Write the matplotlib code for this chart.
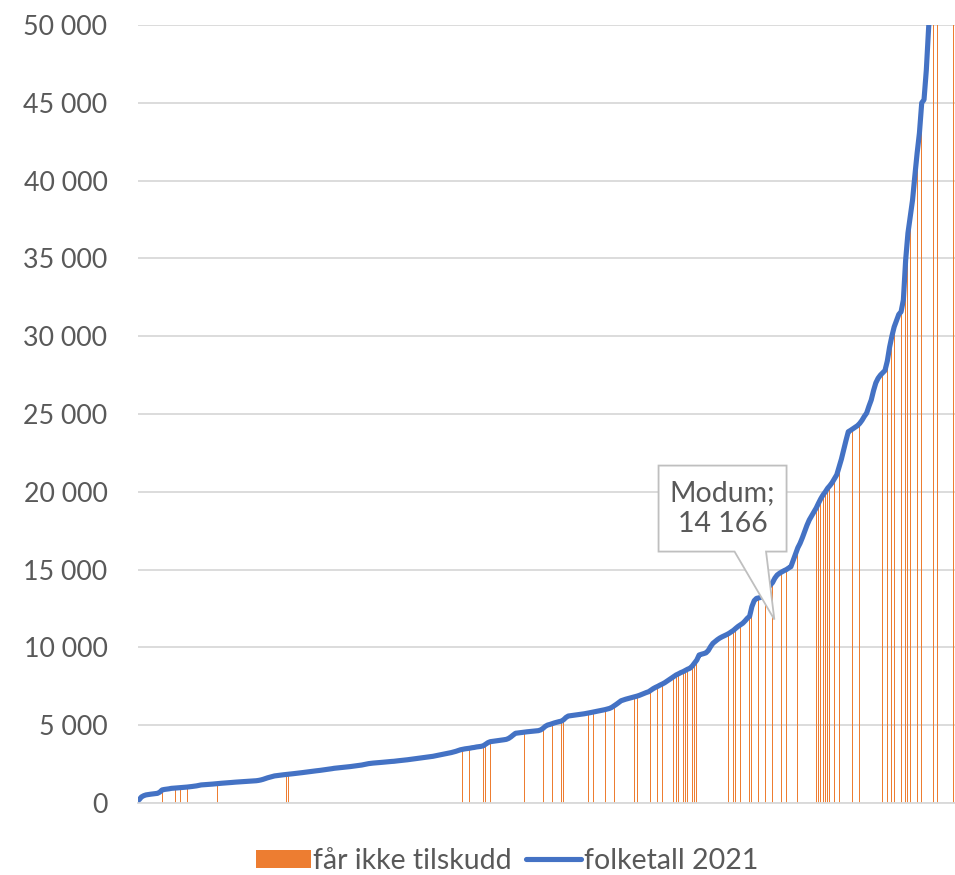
import numpy as np
import matplotlib.pyplot as plt
import matplotlib.transforms as mtransforms
from matplotlib.patches import Polygon, Patch
from matplotlib.lines import Line2D

plt.rcParams['font.family'] = ['Lato', 'DejaVu Sans']

# folketall 2021, kommunene sortert stigende (lest av figuren)
folketall = [
    210, 390, 470, 520, 545, 565, 585, 600, 620, 700,
    840, 870, 890, 910, 940, 950, 960, 975, 990, 1000,
    1010, 1025, 1040, 1060, 1080, 1100, 1130, 1160, 1170, 1180,
    1190, 1200, 1215, 1230, 1245, 1260, 1270, 1280, 1295, 1305,
    1315, 1330, 1340, 1350, 1360, 1370, 1380, 1390, 1400, 1410,
    1420, 1430, 1450, 1480, 1520, 1570, 1620, 1660, 1700, 1740,
    1760, 1780, 1800, 1815, 1830, 1845, 1860, 1880, 1900, 1915,
    1930, 1950, 1970, 1990, 2010, 2030, 2050, 2065, 2080, 2100,
    2120, 2140, 2160, 2180, 2205, 2230, 2245, 2260, 2275, 2290,
    2305, 2320, 2340, 2360, 2380, 2400, 2420, 2440, 2470, 2500,
    2530, 2550, 2565, 2580, 2590, 2600, 2615, 2630, 2640, 2655,
    2670, 2680, 2700, 2715, 2730, 2745, 2760, 2780, 2800, 2820,
    2840, 2860, 2880, 2900, 2920, 2940, 2960, 2980, 3000, 3030,
    3060, 3090, 3120, 3150, 3180, 3210, 3240, 3280, 3320, 3370,
    3420, 3450, 3480, 3500, 3520, 3550, 3570, 3600, 3620, 3640,
    3680, 3780, 3880, 3940, 3960, 3980, 4000, 4020, 4040, 4065,
    4090, 4150, 4250, 4370, 4480, 4500, 4520, 4540, 4560, 4575,
    4590, 4605, 4620, 4635, 4650, 4700, 4800, 4930, 5010, 5050,
    5100, 5150, 5190, 5230, 5260, 5360, 5500, 5590, 5610, 5630,
    5650, 5670, 5690, 5710, 5735, 5760, 5790, 5820, 5850, 5880,
    5910, 5940, 5970, 6000, 6040, 6080, 6150, 6250, 6350, 6460,
    6570, 6620, 6670, 6710, 6750, 6790, 6830, 6870, 6920, 6980,
    7040, 7100, 7150, 7250, 7350, 7430, 7500, 7580, 7650, 7730,
    7830, 7930, 8030, 8130, 8230, 8300, 8380, 8440, 8520, 8600,
    8660, 8800, 9000, 9190, 9510, 9560, 9600, 9650, 9800, 10050,
    10260, 10380, 10500, 10600, 10680, 10750, 10820, 10900, 11000, 11100,
    11230, 11350, 11450, 11550, 11700, 11870, 12000, 12620, 13000, 13150,
    13180, 13220, 13260, 13500, 13800, 14000, 14166, 14450, 14650, 14760,
    14850, 14930, 15000, 15100, 15190, 15600, 16000, 16400, 16690, 17050,
    17450, 17850, 18190, 18450, 18700, 18950, 19260, 19550, 19800, 20000,
    20230, 20400, 20600, 20850, 21100, 21600, 22100, 22700, 23300, 23860,
    23950, 24050, 24150, 24250, 24400, 24600, 24850, 25060, 25500, 25900,
    26500, 27000, 27300, 27500, 27650, 27800, 28400, 29300, 30000, 30600,
    31000, 31400, 31570, 32330, 34900, 36630, 37700, 38750, 40300, 41770,
    43060, 45000, 45200, 47100, 49800, 52000, 55000, 57000, 60000, 66000,
    80000, 95000, 128000, 207000, 286000, 697000,
]

# kommuner (indeks i sortert liste) som ikke får tilskudd
ikke_tilskudd = [
    10, 16, 18, 21, 34, 64, 65, 141, 144, 150, 151, 153, 168, 176, 180,
    184, 185, 186, 196, 198, 203, 207, 216, 217, 223, 226, 228, 233, 234,
    235, 237, 238, 239, 241, 242, 243, 257, 259, 260, 262, 266, 267, 270,
    273, 276, 280, 282, 287, 295, 296, 297, 298, 299, 300, 301, 303, 305,
    311, 314, 324, 325, 326, 328, 329, 332, 334, 335, 336, 339, 341, 346,
    348, 355,
]

modum_idx = 276
modum_navn = 'Modum'

yticks = list(range(0, 50001, 5000))

orange = '#ED7D31'
blue = '#4472C4'
grid_c = '#D9D9D9'
text_c = '#595959'

x = np.arange(len(folketall))
bar_h = [folketall[i] for i in ikke_tilskudd]

fig = plt.figure(figsize=(9.55, 8.75), dpi=100)
ax = fig.add_axes([0.1445, 0.0823, 0.8555, 0.8891])

ax.bar(ikke_tilskudd, bar_h, width=0.42, color=orange, zorder=2, linewidth=0)
ax.plot(x, folketall, color=blue, lw=3.7, solid_joinstyle='round',
        solid_capstyle='round', zorder=3)

ax.set_xlim(-0.5, len(folketall) - 0.5)
ax.set_ylim(0, 50000)
ax.set_yticks(yticks)
ax.set_yticklabels([f'{v:,}'.replace(',', ' ') for v in yticks])
ax.set_xticks([])
ax.tick_params(axis='y', length=0, pad=22, labelsize=19.3, labelcolor=text_c)
ax.grid(axis='y', color=grid_c, lw=1.3, zorder=0)
ax.set_axisbelow(True)
for s in ['top', 'left', 'right']:
    ax.spines[s].set_visible(False)
ax.spines['bottom'].set_color(grid_c)
ax.spines['bottom'].set_linewidth(1.3)

# datamerknad (callout) for Modum, form i piksler relativt til punktet
mv = folketall[modum_idx]
callout_tr = (mtransforms.Affine2D().scale(fig.dpi / 100)
              + mtransforms.ScaledTranslation(modum_idx, mv, ax.transData))
pts = [(-114, 117), (14, 117), (14, 31), (-6.5, 31), (1.8, -37),
       (-38, 31), (-114, 31)]
poly = Polygon(pts, closed=True, transform=callout_tr, facecolor='white',
               edgecolor='#BFBFBF', lw=1.3, zorder=5, clip_on=False)
ax.add_patch(poly)
ax.annotate(f'{modum_navn};\n{mv:,}'.replace(',', ' '),
            xy=(modum_idx, mv), xytext=(-50, 74), textcoords='offset pixels',
            ha='center', va='center', fontsize=20.5, color=text_c,
            linespacing=1.2, zorder=6)

handles = [Patch(facecolor=orange, edgecolor='none'),
           Line2D([0], [0], color=blue, lw=3.7, solid_capstyle='round')]
fig.legend(handles, ['får ikke tilskudd', 'folketall 2021'],
           loc='center', bbox_to_anchor=(0.531, 0.016), ncol=2,
           frameon=False, fontsize=20.5, labelcolor=text_c,
           handlelength=1.93, handleheight=0.6, handletextpad=0.08,
           columnspacing=0.5, borderpad=0.1)

fig.savefig('out.png', dpi=100)
